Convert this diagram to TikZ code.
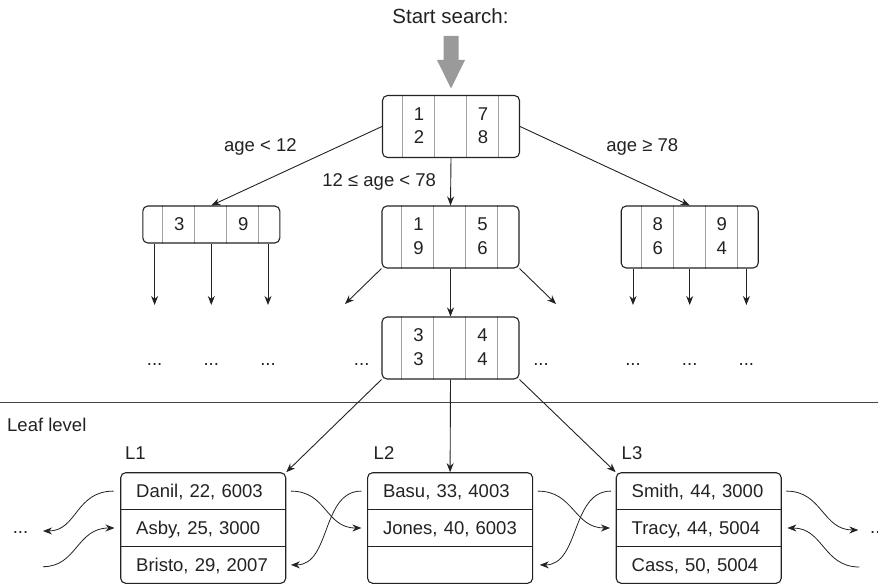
\documentclass[tikz,border=0pt]{standalone}
\usepackage{fontspec}
\setmainfont{Liberation Sans}
\usetikzlibrary{arrows.meta,backgrounds}
\definecolor{ink}{HTML}{222222}
\definecolor{divgray}{HTML}{A0A0A0}
\definecolor{arrowgray}{HTML}{9A9A9A}
\definecolor{rulegray}{HTML}{444444}
\begin{document}
\begin{tikzpicture}[x=1pt,y=-1pt,
  txt/.style={font=\fontsize{18.5}{22}\selectfont, text=ink, inner sep=0pt},
  bigtxt/.style={font=\fontsize{20.5}{24}\selectfont, text=ink, inner sep=0pt},
  ibox/.style={draw=ink, line width=1.1pt, rounded corners=5pt, minimum width=137pt, minimum height=62pt, inner sep=0pt},
  iboxone/.style={ibox, minimum height=37pt},
  leafbox/.style={draw=ink, line width=1.1pt, rounded corners=5pt, minimum width=165pt, minimum height=110.6pt, inner sep=0pt},
  leafrow/.style={txt, minimum height=36.87pt, text width=134pt, inner xsep=15.5pt, inner ysep=0pt, align=left, text height=13.3pt, text depth=0pt},
  rowline/.style={draw=ink, line width=1pt},
  div/.style={draw=divgray, line width=1pt},
  conn/.style={draw=ink, line width=0.9pt, -{Stealth[length=9pt,width=7pt]}},
  link/.style={draw=ink, line width=0.8pt, -{Stealth[length=9pt,width=7pt]}}
]
\useasboundingbox (0,0) rectangle (878,585);
\clip (0,0) rectangle (878,585);

% Start arrow
\node[bigtxt, anchor=base] (start) at (450.5,24) {Start search:};
\fill[arrowgray] (443.5,36) -- (458.5,36) -- (458.5,60) -- (465,60) -- (451,88.5) -- (437,60) -- (443.5,60) -- cycle;

% internal nodes
\node[ibox] (root) at (451,126.5) {};
\node[iboxone] (left) at (211.3,224.5) {};
\node[ibox] (mid) at (450.5,237) {};
\node[ibox] (right) at (689.7,237) {};
\node[ibox] (low) at (450.5,348) {};

\begin{scope}[on background layer]
\foreach \n in {root,left,mid,right,low}{
  \foreach \d in {20.5,52.5,84.5,116.5}{
    \draw[div] ([xshift=\d pt]\n.north west) -- ([xshift=\d pt]\n.south west);
  }
}
\end{scope}

% keys
\node[txt] (root-a1) at (419,114) {1};
\node[txt] (root-a2) at (419,137.5) {2};
\node[txt] (root-b1) at (483,114) {7};
\node[txt] (root-b2) at (483,137.5) {8};

\node[txt] (left-a) at (179.3,224.5) {3};
\node[txt] (left-b) at (243.3,224.5) {9};

\node[txt] (mid-a1) at (418.5,224.5) {1};
\node[txt] (mid-a2) at (418.5,248) {9};
\node[txt] (mid-b1) at (482.5,224.5) {5};
\node[txt] (mid-b2) at (482.5,248) {6};

\node[txt] (right-a1) at (657.7,224.5) {8};
\node[txt] (right-a2) at (657.7,248) {6};
\node[txt] (right-b1) at (721.7,224.5) {9};
\node[txt] (right-b2) at (721.7,248) {4};

\node[txt] (low-a1) at (418.5,335.5) {3};
\node[txt] (low-a2) at (418.5,359) {3};
\node[txt] (low-b1) at (482.5,335.5) {4};
\node[txt] (low-b2) at (482.5,359) {4};

% branch labels
\node[txt, anchor=base] (lab-l) at (260.4,151.7) {age < 12};
\node[txt, anchor=base] (lab-m) at (379.2,186.5) {12 ≤ age < 78};
\node[txt, anchor=base] (lab-r) at (642.2,152) {age ≥ 78};

% connectors from root
\draw[conn] (root.west) -- (left.north);
\draw[conn] (root.east) -- (right.north);
\draw[conn] (root.south) -- (mid.north);

% left node children
\coordinate (ld1) at (154.6,305);
\coordinate (ld2) at (211.3,305);
\coordinate (ld3) at (268,305);
\foreach \c in {ld1,ld2,ld3}{ \draw[conn] (left.south -| \c) -- (\c); }

% right node children
\coordinate (rd1) at (633,305);
\coordinate (rd2) at (689.7,305);
\coordinate (rd3) at (746.4,305);
\foreach \c in {rd1,rd2,rd3}{ \draw[conn] (right.south -| \c) -- (\c); }

% mid node children
\coordinate (md1) at (345,304);
\coordinate (md3) at (556,304);
\draw[conn] (mid.south west) -- (md1);
\draw[conn] (mid.south) -- (low.north);
\draw[conn] (mid.south east) -- (md3);

% dots
\foreach \x/\nm in {154.6/d1,211.3/d2,268/d3,361.7/d4,541/d5,633/d6,689.7/d7,746.4/d8}{
  \node[txt, anchor=base] (dots-\nm) at (\x,365) {...};
}

% leaf level separator
\coordinate (sepL) at (0,402.3);
\coordinate (sepR) at (878,402.3);
\draw[rulegray, line width=1pt] (sepL) -- (sepR);
\node[txt, anchor=base west] (leaflevel) at (7,431) {Leaf level};

% leaves
\node[leafbox] (L1) at (203.2,528) {};
\node[leafbox] (L2) at (450.1,528) {};
\node[leafbox] (L3) at (698.7,528) {};
\node[txt, anchor=base] (L1lab) at (135.5,459) {L1};
\node[txt, anchor=base] (L2lab) at (384,459) {L2};
\node[txt, anchor=base] (L3lab) at (632,459) {L3};

\node[leafrow] (L1r1) at (203.2,491.1) {Danil, 22, 6003};
\node[leafrow] (L1r2) at (203.2,528) {Asby, 25, 3000};
\node[leafrow] (L1r3) at (203.2,564.9) {Bristo, 29, 2007};
\node[leafrow] (L2r1) at (450.1,491.1) {Basu, 33, 4003};
\node[leafrow] (L2r2) at (450.1,528) {Jones, 40, 6003};
\node[leafrow] (L2r3) at (450.1,564.9) {};
\node[leafrow] (L3r1) at (698.7,491.1) {Smith, 44, 3000};
\node[leafrow] (L3r2) at (698.7,528) {Tracy, 44, 5004};
\node[leafrow] (L3r3) at (698.7,564.9) {Cass, 50, 5004};

\foreach \l in {L1,L2,L3}{
  \draw[rowline] (\l r1.south west) -- (\l r1.south east);
  \draw[rowline] (\l r2.south west) -- (\l r2.south east);
}

% connectors to leaves
\draw[conn] (low.south west) -- (L1.north east);
\draw[conn] (low.south) -- (L2.north);
\draw[conn] (low.south east) -- (L3.north west);

% sibling links
\coordinate (lfo) at (43,531);
\coordinate (lfi) at (43,566.7);
\coordinate (rfo) at (858.3,530);
\coordinate (rfi) at (859.3,567);
\node[txt, anchor=base] (dotsL) at (20.5,533) {...};
\node[txt, anchor=base west] (dotsR) at (870,533) {...};

\draw[link] ([xshift=-7pt]L1r1.west) .. controls +(-38,0) and +(34,0) .. (lfo);
\draw[link] (lfi) .. controls +(34,0) and +(-38,0) .. ([xshift=-6pt]L1r2.west);
\draw[link] ([xshift=5pt]L1r1.east) .. controls +(36,0) and +(-36,0) .. ([xshift=-6pt]L2r2.west);
\draw[link] ([xshift=-6pt]L2r1.west) .. controls +(-40,0) and +(40,0) .. ([xshift=5pt]L1r3.east);
\draw[link] ([xshift=5pt]L2r1.east) .. controls +(36,0) and +(-36,0) .. ([xshift=-6pt]L3r2.west);
\draw[link] ([xshift=-5pt]L3r1.west) .. controls +(-40,0) and +(40,0) .. ([xshift=7pt]L2r3.east);
\draw[link] ([xshift=5pt]L3r1.east) .. controls +(36,0) and +(-36,0) .. (rfo);
\draw[link] (rfi) .. controls +(-36,0) and +(36,0) .. ([xshift=6pt]L3r2.east);
\end{tikzpicture}
\end{document}
